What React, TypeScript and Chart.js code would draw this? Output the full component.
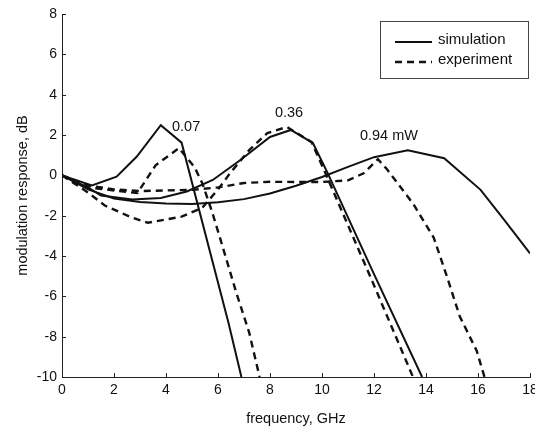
import React, { useEffect, useRef } from "react";
import { Chart, registerables } from "chart.js";

Chart.register(...registerables);

// ---- data (frequency in GHz, response in dB) ----
const simFreq007 = [0, 1.15, 2.1, 2.87, 3.8, 4.6, 6.4, 6.9];
const simResp007 = [0, -0.5, -0.07, 0.92, 2.49, 1.62, -7.3, -10];

const simFreq036 = [0, 1, 1.5, 2.7, 3.8, 4.8, 5.8, 6.85, 8, 8.8, 9.65, 10.2, 12, 13.85];
const simResp036 = [0, -0.6, -1.0, -1.2, -1.12, -0.8, -0.23, 0.75, 1.9, 2.25, 1.6, 0.16, -4.9, -10];

const simFreq094 = [0, 1, 2, 3, 4, 5, 6, 7, 8, 9, 10, 11, 12, 13.3, 14.7, 16.1, 17, 18];
const simResp094 = [0, -0.7, -1.15, -1.32, -1.4, -1.42, -1.33, -1.18, -0.9, -0.52, -0.08, 0.42, 0.9, 1.24, 0.85, -0.72, -2.2, -3.87];

const expFreq007 = [0, 1, 2, 2.9, 3.6, 4.5, 5.1, 5.4, 5.77, 6.1, 6.7, 7.2, 7.6];
const expResp007 = [0, -0.6, -0.75, -0.88, 0.5, 1.35, 0.4, -0.4, -1.8, -3.2, -5.8, -7.8, -10];

const expFreq036 = [0, 1, 1.65, 2.7, 3.3, 4.6, 5.4, 6.0, 6.46, 7.2, 7.9, 8.65, 9.6, 10.1, 11.85, 13.5];
const expResp036 = [0, -0.85, -1.5, -2.1, -2.35, -2.05, -1.6, -0.7, 0.1, 1.25, 2.1, 2.4, 1.65, 0.2, -5, -10];

const expFreq094 = [0, 1, 2, 3, 4, 5, 6, 7, 8, 9, 10, 11, 11.6, 12.15, 12.5, 13.5, 14.3, 14.8, 15.3, 15.95, 16.25];
const expResp094 = [0, -0.5, -0.7, -0.78, -0.75, -0.72, -0.6, -0.38, -0.32, -0.33, -0.33, -0.25, 0.1, 0.8, 0.3, -1.4, -3.1, -5, -7, -8.7, -10];

const legendLabels = ["simulation", "experiment"];
const annText = ["0.07", "0.36", "0.94 mW"];
const annFreq = [4.23, 8.19, 11.46];
const annResp = [2.39, 3.08, 1.95];

const xTitle = "frequency, GHz";
const yTitle = "modulation response, dB";

const FONT = "'Liberation Sans', Arial, Helvetica, sans-serif";

const pts = (xs: number[], ys: number[]) => xs.map((x, i) => ({ x, y: ys[i] }));

const solidStyle = { borderColor: "#111", borderWidth: 2, pointRadius: 0, tension: 0, fill: false };
const dashStyle = { ...solidStyle, borderWidth: 2.4, borderDash: [7, 5] };

const extrasPlugin = {
  id: "extras",
  afterDraw(chart: any) {
    const { ctx, chartArea, scales } = chart;
    const xs = scales.x;
    const ys = scales.y;
    ctx.save();
    // inward ticks
    ctx.strokeStyle = "#222";
    ctx.lineWidth = 1;
    xs.ticks.forEach((t: any) => {
      const px = Math.round(xs.getPixelForValue(t.value)) + 0.5;
      ctx.beginPath();
      ctx.moveTo(px, chartArea.bottom);
      ctx.lineTo(px, chartArea.bottom - 4);
      ctx.stroke();
    });
    ys.ticks.forEach((t: any) => {
      const py = Math.round(ys.getPixelForValue(t.value)) + 0.5;
      ctx.beginPath();
      ctx.moveTo(chartArea.left, py);
      ctx.lineTo(chartArea.left + 4, py);
      ctx.stroke();
    });
    // annotations
    ctx.fillStyle = "#111";
    ctx.font = `14.5px ${FONT}`;
    ctx.textBaseline = "middle";
    ctx.textAlign = "left";
    annText.forEach((txt, i) => {
      ctx.fillText(txt, xs.getPixelForValue(annFreq[i]), ys.getPixelForValue(annResp[i]));
    });
    // legend box
    const bx = chartArea.right - 150;
    const by = chartArea.top + 7;
    const bw = 148;
    const bh = 57;
    ctx.fillStyle = "#fff";
    ctx.fillRect(bx, by, bw, bh);
    ctx.strokeStyle = "#444";
    ctx.lineWidth = 1;
    ctx.strokeRect(Math.round(bx) + 0.5, Math.round(by) + 0.5, bw, bh);
    const rows = [by + 19, by + 39];
    legendLabels.forEach((lab, i) => {
      ctx.strokeStyle = "#111";
      ctx.lineWidth = i === 0 ? 2 : 2.4;
      ctx.setLineDash(i === 0 ? [] : [7, 5]);
      ctx.beginPath();
      ctx.moveTo(bx + 15, rows[i] + 2);
      ctx.lineTo(bx + 52, rows[i] + 2);
      ctx.stroke();
      ctx.setLineDash([]);
      ctx.fillStyle = "#111";
      ctx.font = `15px ${FONT}`;
      ctx.fillText(lab, bx + 58, rows[i]);
    });
    ctx.restore();
  },
};

export default function App() {
  const ref = useRef<HTMLCanvasElement | null>(null);
  useEffect(() => {
    if (!ref.current) return;
    const chart = new Chart(ref.current, {
      type: "line",
      data: {
        datasets: [
          { label: legendLabels[0], data: pts(simFreq007, simResp007), ...solidStyle },
          { label: legendLabels[0], data: pts(simFreq036, simResp036), ...solidStyle },
          { label: legendLabels[0], data: pts(simFreq094, simResp094), ...solidStyle },
          { label: legendLabels[1], data: pts(expFreq007, expResp007), ...dashStyle },
          { label: legendLabels[1], data: pts(expFreq036, expResp036), ...dashStyle },
          { label: legendLabels[1], data: pts(expFreq094, expResp094), ...dashStyle },
        ] as any,
      },
      options: {
        responsive: false,
        maintainAspectRatio: false,
        animation: false,
        layout: { padding: { top: 14, right: 5, left: 0, bottom: 0 } },
        plugins: { legend: { display: false }, tooltip: { enabled: false } },
        scales: {
          x: {
            type: "linear",
            min: 0,
            max: 18,
            grid: { display: true, drawOnChartArea: false, drawTicks: false },
            border: { display: true, color: "#222", width: 1 },
            ticks: { stepSize: 2, padding: 5, color: "#111", font: { family: FONT, size: 14 }, maxRotation: 0 },
            title: { display: true, text: xTitle, color: "#111", font: { family: FONT, size: 14.5 }, padding: { top: 0, bottom: 4 } },
            afterFit: (s: any) => {
              s.height = 55;
              s.paddingLeft = 0;
              s.paddingRight = 0;
            },
          },
          y: {
            type: "linear",
            min: -10,
            max: 8,
            grid: { display: true, drawOnChartArea: false, drawTicks: false },
            border: { display: true, color: "#222", width: 1 },
            ticks: { stepSize: 2, padding: 5, color: "#111", font: { family: FONT, size: 14 } },
            title: { display: true, text: yTitle, color: "#111", font: { family: FONT, size: 14.5 }, padding: { top: 14, bottom: 0 } },
            afterFit: (s: any) => {
              s.width = 62;
              s.paddingTop = 0;
              s.paddingBottom = 0;
            },
          },
        },
      } as any,
      plugins: [extrasPlugin],
    });
    return () => chart.destroy();
  }, []);
  return (
    <div style={{ position: "fixed", left: 0, top: 0, width: 535, height: 432, background: "#fff" }}>
      <canvas ref={ref} width={535} height={432} style={{ display: "block" }} />
    </div>
  );
}
